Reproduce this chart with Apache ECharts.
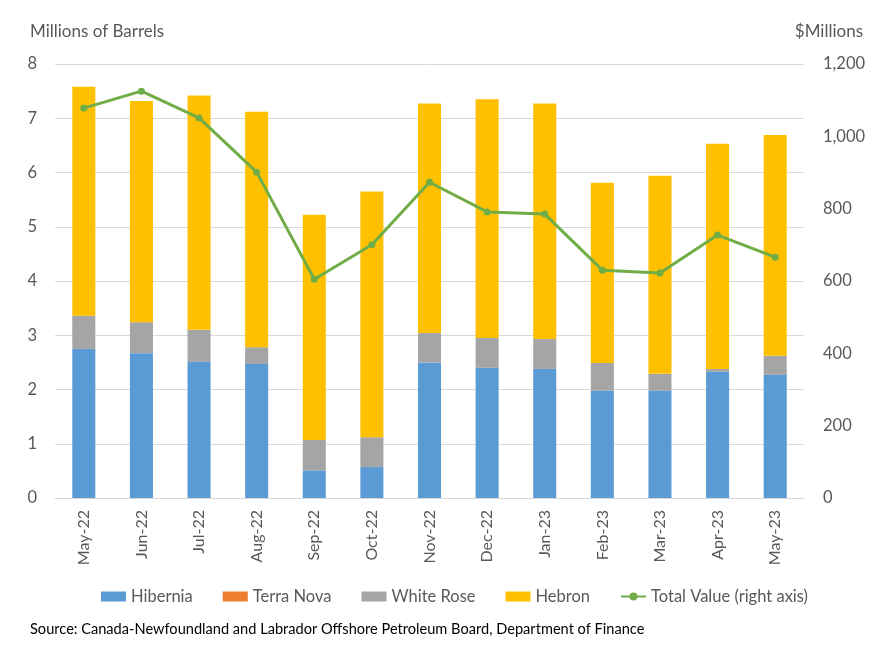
<!DOCTYPE html>
<html>
<head>
<meta charset="utf-8">
<script src="https://cdn.jsdelivr.net/npm/echarts@6/dist/echarts.min.js"></script>
<style>
  html, body { margin: 0; padding: 0; background: #fff; }
  #chart { width: 893px; height: 662px; }
</style>
</head>
<body>
<div id="chart"></div>
<script>
// data
const months = ['May-22', 'Jun-22', 'Jul-22', 'Aug-22', 'Sep-22', 'Oct-22', 'Nov-22', 'Dec-22', 'Jan-23', 'Feb-23', 'Mar-23', 'Apr-23', 'May-23']
const hibernia = [2.75, 2.67, 2.51, 2.47, 0.51, 0.57, 2.50, 2.40, 2.38, 1.98, 1.98, 2.33, 2.27]
const terraNova = [0, 0, 0, 0, 0, 0, 0, 0, 0, 0, 0, 0, 0]
const whiteRose = [0.61, 0.57, 0.59, 0.31, 0.56, 0.55, 0.54, 0.55, 0.55, 0.51, 0.31, 0.05, 0.35]
const hebron = [4.22, 4.08, 4.32, 4.34, 4.15, 4.53, 4.23, 4.40, 4.34, 3.32, 3.65, 4.15, 4.07]
const totalValue = [1078, 1125, 1051, 901, 605, 700, 873, 791, 785, 630, 622, 727, 666]

const font = 'Lato, "Open Sans", sans-serif'
const grey = '#595959'

const chart = echarts.init(document.getElementById('chart'))

function barSeries (name, data, color) {
  return {
    name: name,
    type: 'bar',
    stack: 'oil',
    barWidth: '40%',
    itemStyle: { color: color },
    data: data
  }
}

const option = {
  animation: false,
  textStyle: { fontFamily: font },
  grid: { left: 55, right: 89, top: 64, bottom: 164 },
  graphic: [
    { type: 'text', left: 30, top: 23, style: { text: 'Millions of Barrels', fontSize: 17, fill: grey, fontFamily: font } },
    { type: 'text', right: 30, top: 23, style: { text: '$Millions', fontSize: 17, fill: grey, fontFamily: font } },
    { type: 'text', left: 30, top: 622, style: { text: 'Source: Canada-Newfoundland and Labrador Offshore Petroleum Board, Department of Finance', fontSize: 14.6, fill: '#000', fontFamily: font } }
  ],
  legend: {
    left: 96,
    top: 583,
    itemWidth: 25,
    itemHeight: 10,
    itemGap: 30,
    textStyle: { fontSize: 16.5, color: grey, fontFamily: font },
    data: [
      { name: 'Hibernia', icon: 'rect' },
      { name: 'Terra Nova', icon: 'rect' },
      { name: 'White Rose', icon: 'rect' },
      { name: 'Hebron', icon: 'rect' },
      { name: 'Total Value (right axis)' }
    ]
  },
  xAxis: {
    type: 'category',
    data: months,
    axisLine: { lineStyle: { color: '#D9D9D9' } },
    axisTick: { show: false },
    axisLabel: { rotate: 90, margin: 12, fontSize: 16, color: grey, fontFamily: font }
  },
  yAxis: [
    {
      type: 'value',
      min: 0,
      max: 8,
      interval: 1,
      axisLabel: { margin: 18, fontSize: 16.5, color: grey, fontFamily: font },
      splitLine: { lineStyle: { color: '#D9D9D9' } }
    },
    {
      type: 'value',
      min: 0,
      max: 1200,
      interval: 200,
      axisLabel: {
        margin: 19,
        fontSize: 16.5,
        color: grey,
        fontFamily: font,
        formatter: v => v.toLocaleString('en-US')
      },
      splitLine: { show: false }
    }
  ],
  series: [
    barSeries('Hibernia', hibernia, '#5B9BD5'),
    barSeries('Terra Nova', terraNova, '#ED7D31'),
    barSeries('White Rose', whiteRose, '#A5A5A5'),
    barSeries('Hebron', hebron, '#FFC000'),
    {
      name: 'Total Value (right axis)',
      type: 'line',
      yAxisIndex: 1,
      symbol: 'circle',
      symbolSize: 7,
      lineStyle: { width: 3, color: '#70AD47' },
      itemStyle: { color: '#70AD47' },
      data: totalValue
    }
  ]
}

chart.setOption(option)
</script>
</body>
</html>
